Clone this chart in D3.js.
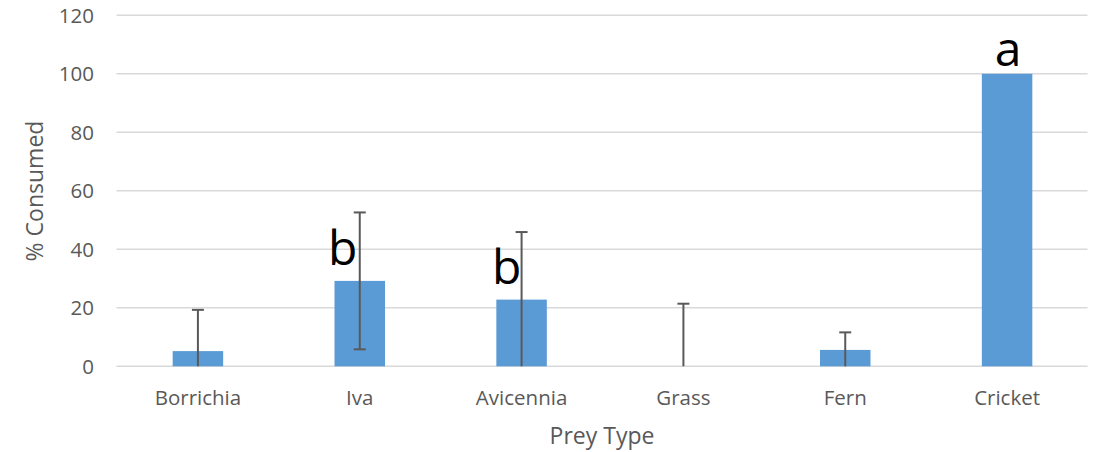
<!DOCTYPE html>
<html><head><meta charset="utf-8">
<script src="https://cdn.jsdelivr.net/npm/d3@7"></script>
<style>body{margin:0;background:#fff}svg{display:block}text{font-family:"Open Sans",sans-serif}</style>
</head><body>
<svg id="c" width="1101" height="452"></svg>
<script>
const categories = ["Borrichia","Iva","Avicennia","Grass","Fern","Cricket"];
const values = [5.2, 29.2, 22.8, 0, 5.6, 100];
const errors = [14.1, 23.4, 23.1, 21.4, 6.0, 0];
const letters = ["", "b", "b", "", "", "a"];
const yTicks = [0,20,40,60,80,100,120];

const svg = d3.select("#c");
const x = d3.scaleBand().domain(categories).range([117, 1088]);
const y = d3.scaleLinear().domain([0,120]).range([366.3, 15.3]);
const barW = x.bandwidth()*0.312;

// gridlines
svg.append("g").selectAll("line").data(yTicks).join("line")
  .attr("x1",116.5).attr("x2",1087.5)
  .attr("y1",d=>y(d)).attr("y2",d=>y(d))
  .attr("stroke","#d9d9d9").attr("stroke-width",1.5);

// y tick labels
svg.append("g").selectAll("text").data(yTicks).join("text")
  .attr("x",94).attr("y",d=>y(d)).attr("dy","0.36em")
  .attr("text-anchor","end").attr("font-size",20.5).attr("fill","#595959")
  .text(d=>d);

// bars
svg.append("g").selectAll("rect").data(categories).join("rect")
  .attr("x",(d)=>x(d)+x.bandwidth()/2-barW/2)
  .attr("width",barW)
  .attr("y",(d,i)=>y(values[i]))
  .attr("height",(d,i)=>y(0)-y(values[i]))
  .attr("fill","#5b9bd5");

// error bars
const eg = svg.append("g").attr("stroke","#595959").attr("stroke-width",2);
categories.forEach((c,i)=>{
  if(!errors[i]) return;
  const cx = x(c)+x.bandwidth()/2;
  const hi = values[i]+errors[i];
  const lo = Math.max(0, values[i]-errors[i]);
  eg.append("line").attr("x1",cx).attr("x2",cx).attr("y1",y(hi)).attr("y2",y(lo));
  eg.append("line").attr("x1",cx-6).attr("x2",cx+6).attr("y1",y(hi)).attr("y2",y(hi));
  if(values[i]-errors[i] > 0)
    eg.append("line").attr("x1",cx-6).attr("x2",cx+6).attr("y1",y(lo)).attr("y2",y(lo));
});

// category labels
svg.append("g").selectAll("text").data(categories).join("text")
  .attr("x",d=>x(d)+x.bandwidth()/2).attr("y",405)
  .attr("text-anchor","middle").attr("font-size",20.5).attr("fill","#595959")
  .text(d=>d);

// significance letters
const letterOffsets = [0,-17,-15,0,0,1];
svg.append("g").selectAll("text").data(categories).join("text")
  .attr("x",(d,i)=>x(d)+x.bandwidth()/2+letterOffsets[i])
  .attr("y",(d,i)=>y(values[i])-(i===5?8:16))
  .attr("text-anchor","middle").attr("font-size",48).attr("fill","#000")
  .text((d,i)=>letters[i]);

// axis titles
svg.append("text").attr("x",602).attr("y",444).attr("text-anchor","middle")
  .attr("font-size",23).attr("fill","#595959").text("Prey Type");
svg.append("text").attr("transform","translate(43,191) rotate(-90)")
  .attr("text-anchor","middle").attr("font-size",23).attr("fill","#595959").text("% Consumed");
</script>
</body></html>
